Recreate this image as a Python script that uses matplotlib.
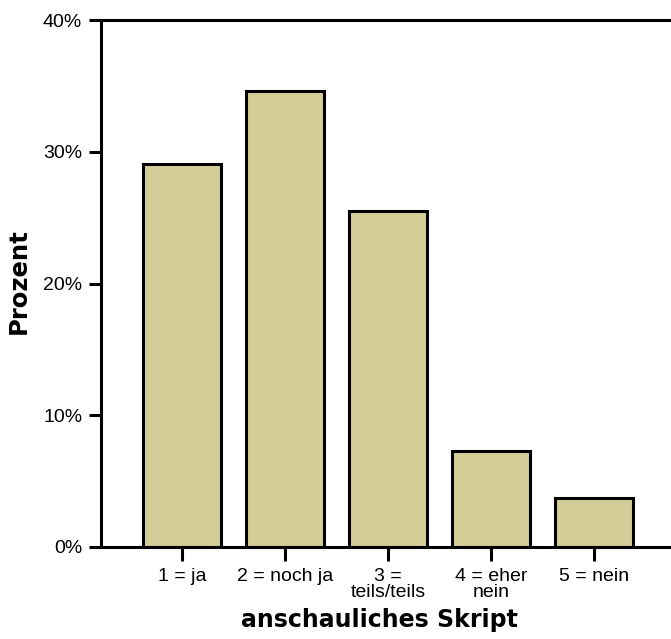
import matplotlib
matplotlib.use("Agg")
import matplotlib.pyplot as plt
from matplotlib import font_manager

categories = ["1 = ja", "2 = noch ja", "3 =\nteils/teils", "4 = eher\nnein", "5 = nein"]
percent = [29.1, 34.6, 25.5, 7.3, 3.7]
yticks = [0, 10, 20, 30, 40]

names = {f.name for f in font_manager.fontManager.ttflist}
tick_font = "Liberation Sans Narrow" if "Liberation Sans Narrow" in names else "Liberation Sans"

fig = plt.figure(figsize=(6.71, 6.39), dpi=100)
ax = fig.add_axes([0.1505, 0.144, 0.8495, 0.8245])

pos = range(len(categories))
ax.bar(pos, percent, width=0.76, color="#d3ce98", edgecolor="black", linewidth=2.2, zorder=2)

ax.set_xlim(-0.79, 4.75)
ax.set_ylim(0, 40)
ax.set_yticks(yticks)
ax.set_yticklabels([f"{v}%" for v in yticks], fontsize=14, family=tick_font)
ax.set_xticks(list(pos))
ax.set_xticklabels(categories, fontsize=14, family=tick_font, linespacing=0.92)

for side in ["left", "bottom", "top"]:
    ax.spines[side].set_linewidth(2.2)
ax.spines["right"].set_visible(False)
ax.tick_params(axis="y", direction="out", width=2.2, length=8.5, pad=5)
ax.tick_params(axis="x", direction="out", width=2.2, length=10, pad=5)

ax.set_ylabel("Prozent", fontsize=17.5, fontweight="bold", family="DejaVu Sans")
ax.yaxis.set_label_coords(-0.124, 0.505)
ax.set_xlabel("anschauliches Skript", fontsize=17, fontweight="bold", family="DejaVu Sans")
ax.xaxis.set_label_coords(0.489, -0.115)

fig.savefig("out.png", dpi=100)
